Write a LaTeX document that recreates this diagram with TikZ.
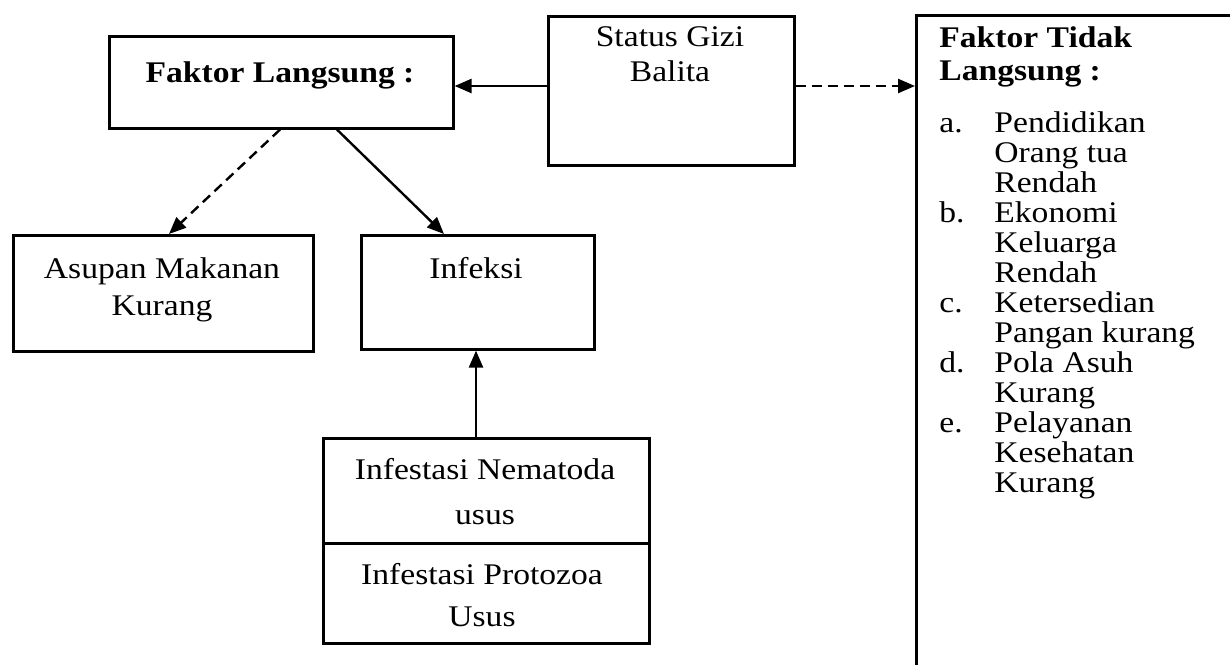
\documentclass[tikz,border=0pt]{standalone}
\usepackage{fontspec}
\setmainfont[FakeStretch=1.12]{Liberation Serif}
\usetikzlibrary{arrows.meta}
\begin{document}
\begin{tikzpicture}[x=0.5pt,y=-0.5pt,
  box/.style={draw, line width=1.3pt, inner sep=0pt, anchor=north west},
  txt/.style={inner sep=0pt, align=center, font=\fontsize{15}{15}\selectfont},
  arr/.style={line width=1.2pt, -{Triangle[length=8.5pt,width=7pt]}},
  darr/.style={arr, dash pattern=on 5pt off 3pt}]
\useasboundingbox (0,0) rectangle (1230,664);
\clip (0,0) rectangle (1230,664);
% boxes
\node[box, minimum width=172pt, minimum height=46pt] (fl) at (108,35) {};
\node[box, minimum width=123pt, minimum height=74.5pt] (sg) at (547,15) {};
\node[box, minimum width=200pt, minimum height=350pt] (ftl) at (915,14) {};
\node[box, minimum width=150pt, minimum height=58pt] (asu) at (12,234) {};
\node[box, minimum width=116.5pt, minimum height=57pt] (inf) at (360,234) {};
\node[box, minimum width=163pt, minimum height=52.5pt] (nem) at (322,437) {};
\node[box, minimum width=163pt, minimum height=50pt] (pro) at (322,542) {};
% texts
\node[txt, anchor=base] (flt) at (280,82) {\textbf{Faktor Langsung :}};
\node[txt, anchor=north] (sgt) at (670,26.5) {Status Gizi\\[2.5pt]Balita};
\node[txt, anchor=north] (asut) at (162,257.5) {Asupan Makanan\\[3.5pt]Kurang};
\node[txt, anchor=base] (inft) at (476,278) {Infeksi};
\node[txt, anchor=north] (nemt) at (485,457.5) {Infestasi Nematoda\\[7.5pt]usus};
\node[txt, anchor=north] (prot) at (482,562.5) {Infestasi Protozoa\\[6pt]Usus};
\node[txt, anchor=north west, align=left] (ftlt) at (939,26) {%
\textbf{Faktor Tidak}\\[1.5pt]
\textbf{Langsung :}\\[11pt]
\makebox[27.5pt][l]{a.}Pendidikan\\
\hspace*{27.5pt}Orang tua\\
\hspace*{27.5pt}Rendah\\
\makebox[27.5pt][l]{b.}Ekonomi\\
\hspace*{27.5pt}Keluarga\\
\hspace*{27.5pt}Rendah\\
\makebox[27.5pt][l]{c.}Ketersedian\\
\hspace*{27.5pt}Pangan kurang\\
\makebox[27.5pt][l]{d.}Pola Asuh\\
\hspace*{27.5pt}Kurang\\
\makebox[27.5pt][l]{e.}Pelayanan\\
\hspace*{27.5pt}Kesehatan\\
\hspace*{27.5pt}Kurang};
% connector coordinates
\coordinate (ya) at (0,86);
\coordinate (xd1) at (280,0);
\coordinate (xd2) at (169,0);
\coordinate (xs1) at (337,0);
\coordinate (xs2) at (444,0);
\coordinate (xu) at (476,0);
% connectors
\draw[arr] (sg.west |- ya) -- (fl.east |- ya);
\draw[darr] (sg.east |- ya) -- (ftl.west |- ya);
\draw[darr] (fl.south -| xd1) -- (asu.north -| xd2);
\draw[arr] (fl.south -| xs1) -- (inf.north -| xs2);
\draw[arr] (nem.north -| xu) -- (inf.south -| xu);
\end{tikzpicture}
\end{document}
